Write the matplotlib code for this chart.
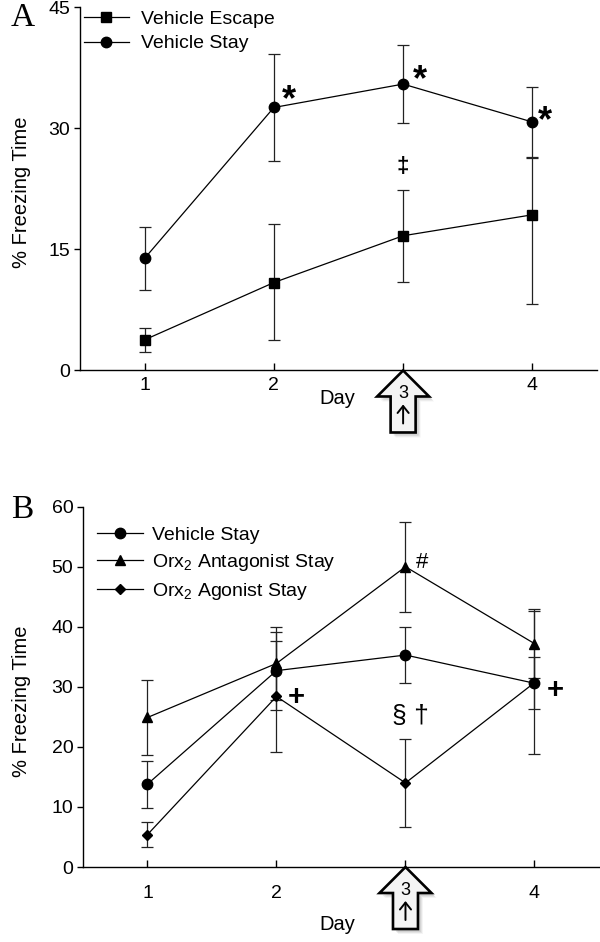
import numpy as np
import matplotlib
matplotlib.use("Agg")
import matplotlib.pyplot as plt
import matplotlib.transforms as mtransforms
from matplotlib.patches import Polygon, FancyArrowPatch

plt.rcParams['font.family'] = ['Liberation Sans', 'DejaVu Sans']
plt.rcParams['mathtext.fontset'] = 'custom'
plt.rcParams['mathtext.rm'] = 'Liberation Sans'
plt.rcParams['mathtext.it'] = 'Liberation Sans:italic'

# ---- data ----
days = [1, 2, 3, 4]
day_labels = ['1', '2', '', '4']

# panel A
a_escape = [3.8, 10.9, 16.7, 19.3]
a_escape_lo = [1.5, 7.1, 5.7, 11.1]
a_escape_hi = [1.5, 7.2, 5.7, 7.0]
a_stay = [13.9, 32.6, 35.5, 30.8]
a_stay_err = [3.9, 6.6, 4.8, 4.3]

# panel B
b_vehicle = [13.8, 32.7, 35.3, 30.6]
b_vehicle_err = [3.9, 6.5, 4.7, 4.3]
b_antag = [24.9, 33.9, 50.0, 37.2]
b_antag_err = [6.2, 6.1, 7.5, 5.8]
b_agon = [5.4, 28.4, 14.0, 30.7]
b_agon_err = [2.1, 9.3, 7.3, 11.9]

# significance marks: (x, y, text, size)
a_marks = [(2.12, 33.5, '*'), (3.13, 35.9, '*'), (4.10, 30.8, '*')]
b_marks = [(3.13, 50.7, '#', 16), (2.15, 28.3, '+', 21), (3.04, 25.2, '§ †', 19),
           (4.16, 29.5, '+', 21)]

fig = plt.figure(figsize=(6.0, 9.42), dpi=100)
axA = fig.add_axes([0.1333, 0.6067, 0.8617, 0.3854])
axB = fig.add_axes([0.1383, 0.0796, 0.86, 0.3825])

lw = 0.9
ekw = dict(fmt='none', ecolor='#222222', elinewidth=lw, capsize=4, capthick=lw)


def style(ax, ymax, step, xpad):
    ax.set_xlim(0.5, 4.5)
    ax.set_ylim(0, ymax)
    ax.set_yticks(np.arange(0, ymax + 1, step))
    ax.set_xticks(days)
    ax.set_xticklabels(day_labels)
    for s in ['top', 'right']:
        ax.spines[s].set_visible(False)
    for s in ['left', 'bottom']:
        ax.spines[s].set_linewidth(1.0)
    ax.tick_params(axis='y', direction='out', length=4, width=1, labelsize=14, pad=3)
    ax.tick_params(axis='x', direction='in', length=5, width=1, labelsize=14, pad=xpad)
    ax.set_ylabel('% Freezing Time', fontsize=14.5)
    ax.set_xlabel('Day', fontsize=14.5)


def day3_arrow(ax):
    tr = mtransforms.ScaledTranslation(3, 0, ax.transData)
    verts = [(0, 0), (26, -26), (12.5, -26), (12.5, -62), (-12.5, -62),
             (-12.5, -26), (-26, -26)]
    for k, a in [(5, 0.08), (4, 0.12), (3, 0.15)]:
        sh = Polygon([(x + k, y - k) for x, y in verts], closed=True, fc='#777777',
                     ec='none', alpha=a, transform=tr, clip_on=False, zorder=5)
        ax.add_patch(sh)
    p = Polygon(verts, closed=True, fc='#f4f4f4', ec='black', lw=1.9,
                joinstyle='miter', transform=tr, clip_on=False, zorder=6)
    ax.add_patch(p)
    ax.text(0, -23, '3', transform=tr, ha='center', va='center', fontsize=13,
            zorder=7, clip_on=False)
    small = FancyArrowPatch((0, -53), (0, -34), transform=tr,
                            arrowstyle='->,head_length=5,head_width=4', lw=1.4,
                            color='black', shrinkA=0, shrinkB=0, mutation_scale=1,
                            clip_on=False, zorder=7)
    ax.add_patch(small)


# ---- panel A ----
axA.errorbar(days, a_escape, yerr=[a_escape_lo, a_escape_hi], **ekw)
axA.errorbar(days, a_stay, yerr=a_stay_err, **ekw)
axA.plot(days, a_escape, color='black', lw=lw, marker='s', ms=7, label='Vehicle Escape')
axA.plot(days, a_stay, color='black', lw=lw, marker='o', ms=7.5, label='Vehicle Stay')
style(axA, 45, 15, 5)
for x, y, t in a_marks:
    axA.text(x, y, t, fontsize=26, fontweight='bold', ha='center', va='center')
axA.text(3.0, 25.3, '‡', fontsize=16, fontweight='bold', ha='center', va='center')
axA.legend(loc='upper left', bbox_to_anchor=(0.008, 0.992), frameon=False, fontsize=14,
           handlelength=2.3, handletextpad=0.65, labelspacing=0.35, borderpad=0,
           borderaxespad=0)
axA.xaxis.set_label_coords(0.497, -0.05)
axA.yaxis.set_label_coords(-0.095, 0.49)
day3_arrow(axA)

# ---- panel B ----
axB.errorbar(days, b_vehicle, yerr=b_vehicle_err, **ekw)
axB.errorbar(days, b_antag, yerr=b_antag_err, **ekw)
axB.errorbar(days, b_agon, yerr=b_agon_err, **ekw)
axB.plot(days, b_vehicle, color='black', lw=lw, marker='o', ms=7.5, label='Vehicle Stay')
axB.plot(days, b_antag, color='black', lw=lw, marker='^', ms=7,
         label='Orx$_2$ Antagonist Stay')
axB.plot(days, b_agon, color='black', lw=lw, marker='D', ms=5.5,
         label='Orx$_2$ Agonist Stay')
style(axB, 60, 10, 13)
for x, y, t, s in b_marks:
    w = 'bold' if t == '+' else 'normal'
    axB.text(x, y, t, fontsize=s, fontweight=w, ha='center', va='center')
axB.legend(loc='upper left', bbox_to_anchor=(0.027, 0.945), frameon=False, fontsize=14,
           handlelength=2.35, handletextpad=0.5, labelspacing=0.4, borderpad=0,
           borderaxespad=0)
axB.xaxis.set_label_coords(0.492, -0.132)
axB.yaxis.set_label_coords(-0.1, 0.46)
day3_arrow(axB)

# panel letters
fig.text(0.037, 0.981, 'A', fontsize=24, family=['Liberation Serif'], ha='center', va='center')
fig.text(0.037, 0.459, 'B', fontsize=24, family=['Liberation Serif'], ha='center', va='center')

fig.savefig('out.png', dpi=100)
